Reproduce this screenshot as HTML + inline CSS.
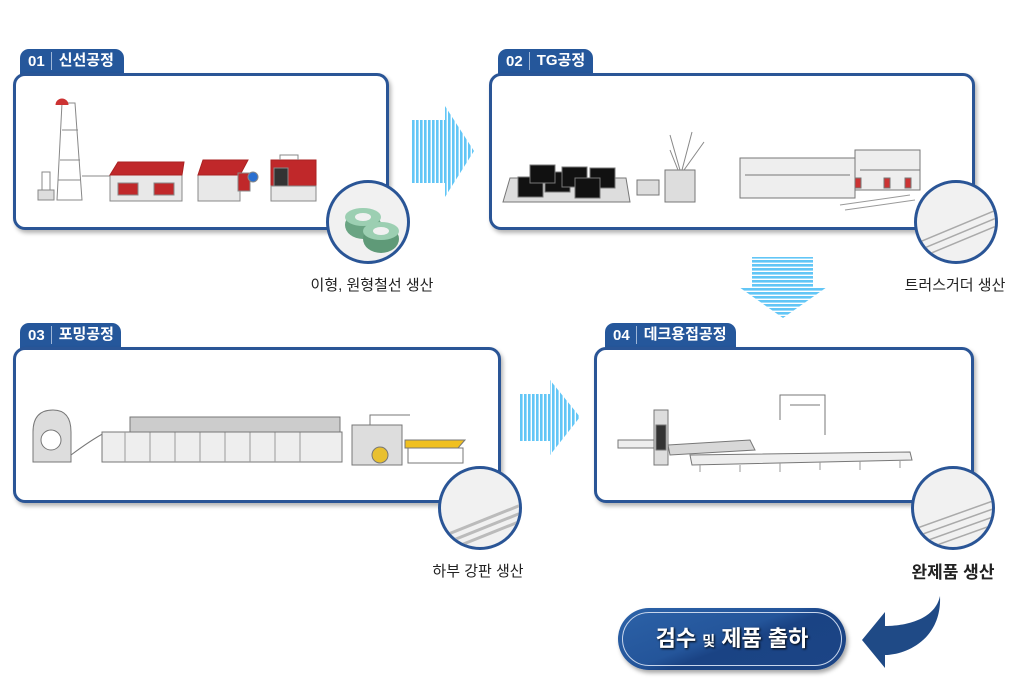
<!DOCTYPE html>
<html><head><meta charset="utf-8"><style>
body{margin:0;width:1034px;height:692px;background:#fff;position:relative;overflow:hidden;font-family:"Liberation Sans","Noto Sans CJK KR",sans-serif}
.panel{position:absolute;border:3px solid #2a5596;border-radius:12px;background:#fff;box-shadow:2px 3px 4px rgba(0,0,0,.3);box-sizing:border-box}
.tab{position:absolute;height:26px;background:#25579b;border-radius:9px 9px 0 0;color:#fff;font-size:15px;font-weight:bold;line-height:26px;padding-left:8px;box-sizing:border-box}
.tab span{display:inline-block;border-left:1px solid #9fb7d8;height:18px;line-height:18px;margin-left:6px;padding-left:7px;vertical-align:middle;position:relative;top:-1px}
.circ{position:absolute;width:84px;height:84px;border-radius:50%;border:3px solid #2a5596;background:#f1f1f1;box-sizing:border-box;overflow:hidden}
.lbl{position:absolute;font-size:15px;color:#222;white-space:nowrap;transform:translateX(-50%)}
svg{position:absolute;left:0;top:0}
</style></head><body>
<div class="tab" style="left:20px;top:49px;width:104px">01<span>신선공정</span></div>
<div class="panel" style="left:13px;top:73px;width:376px;height:157px"></div>
<div class="tab" style="left:498px;top:49px;width:95px">02<span>TG공정</span></div>
<div class="panel" style="left:489px;top:73px;width:486px;height:157px"></div>
<div class="tab" style="left:20px;top:323px;width:101px">03<span>포밍공정</span></div>
<div class="panel" style="left:13px;top:347px;width:488px;height:156px"></div>
<div class="tab" style="left:605px;top:323px;width:131px">04<span>데크용접공정</span></div>
<div class="panel" style="left:594px;top:347px;width:380px;height:156px"></div>

<svg width="1034" height="692" viewBox="0 0 1034 692">
<defs>
<pattern id="vs" width="4" height="4" patternUnits="userSpaceOnUse"><rect width="4" height="4" fill="#fff"/><rect width="2.6" height="4" fill="#62c6f6"/></pattern>
<pattern id="hs" width="4" height="4" patternUnits="userSpaceOnUse"><rect width="4" height="4" fill="#fff"/><rect width="4" height="2.6" fill="#62c6f6"/></pattern>
</defs>
<!-- arrows -->
<polygon points="412,120 445,120 445,106 474,151 445,197 445,183 412,183" fill="url(#vs)"/>
<polygon points="519,394 550,394 550,380 580,417 550,455 550,441 519,441" fill="url(#vs)"/>
<polygon points="752,257 813,257 813,287 827,287 783,318 739,287 752,287" fill="url(#hs)"/>
<!-- curved arrow -->
<path d="M940,596 C942,640 905,655 885,655 L885,668 L862,640 L885,612 L885,626 C905,626 935,620 940,596 Z" fill="#1f4a86"/>

<!-- panel1 machines -->
<g stroke="#888" stroke-width="1" fill="#ddd">
<polygon points="57,200 62,103 75,103 82,200" fill="#fff"/>
<line x1="62" y1="130" x2="78" y2="130"/><line x1="60" y1="160" x2="80" y2="160"/><line x1="58" y1="180" x2="80" y2="180"/>
<rect x="38" y="190" width="16" height="10"/><rect x="42" y="172" width="8" height="18" fill="#fff"/>
<path d="M56,105 a6,6 0 0 1 12,0" fill="#c33" stroke="#c33"/>
<line x1="82" y1="176" x2="110" y2="176"/>
<rect x="110" y="175" width="72" height="26" fill="#e8e8e8"/>
<polygon points="110,175 118,162 184,162 182,175" fill="#c0282a" stroke="#a22"/>
<rect x="118" y="183" width="20" height="12" fill="#c0282a"/><rect x="154" y="183" width="20" height="12" fill="#c0282a"/>
<rect x="198" y="175" width="42" height="26" fill="#e8e8e8"/>
<polygon points="198,175 203,160 248,160 240,175" fill="#c0282a" stroke="#a22"/>
<rect x="238" y="173" width="12" height="18" fill="#c0282a"/><circle cx="253" cy="177" r="5" fill="#2a6fd0"/>
<rect x="271" y="160" width="45" height="26" fill="#c0282a" stroke="#a22"/><rect x="271" y="186" width="45" height="15" fill="#e8e8e8"/>
<rect x="274" y="168" width="14" height="18" fill="#333"/>
<path d="M280,160 v-5 h18 v5" fill="none"/>
</g>
<!-- panel2 machines -->
<g stroke="#777" stroke-width="1" fill="#ddd">
<polygon points="503,202 630,202 626,178 510,178"/>
<g fill="#111"><rect x="518" y="177" width="25" height="20"/><rect x="545" y="172" width="25" height="20"/><rect x="562" y="167" width="25" height="20"/><rect x="530" y="165" width="25" height="18"/><rect x="590" y="168" width="25" height="20"/><rect x="575" y="178" width="25" height="20"/></g>
<rect x="637" y="180" width="22" height="15"/>
<rect x="665" y="170" width="30" height="32"/>
<path d="M680,170 l-10,-35 M682,170 l10,-38 M684,170 l20,-28 M678,170 l-8,-20" stroke="#888"/>
<rect x="740" y="158" width="115" height="40" fill="#eee"/>
<rect x="855" y="150" width="65" height="40" fill="#eee"/>
<line x1="745" y1="175" x2="850" y2="175"/><line x1="860" y1="170" x2="920" y2="170"/>
<rect x="855" y="178" width="6" height="10" fill="#c33"/><rect x="884" y="178" width="6" height="10" fill="#c33"/><rect x="905" y="178" width="6" height="10" fill="#c33"/>
<path d="M840,205 l70,-10 M845,210 l70,-10" stroke="#999"/>
</g>
<!-- panel3 machines -->
<g stroke="#777" stroke-width="1" fill="#eee">
<path d="M33,462 v-30 q0,-22 20,-22 q18,0 18,22 v30 z" fill="#ddd"/>
<circle cx="51" cy="440" r="10" fill="#fff"/>
<path d="M71,455 q20,-15 35,-23" fill="none"/>
<rect x="102" y="432" width="240" height="30"/>
<g stroke="#999"><line x1="125" y1="432" x2="125" y2="462"/><line x1="150" y1="432" x2="150" y2="462"/><line x1="175" y1="432" x2="175" y2="462"/><line x1="200" y1="432" x2="200" y2="462"/><line x1="225" y1="432" x2="225" y2="462"/><line x1="250" y1="432" x2="250" y2="462"/><line x1="275" y1="432" x2="275" y2="462"/><line x1="300" y1="432" x2="300" y2="462"/></g>
<rect x="130" y="417" width="210" height="15" fill="#ccc"/>
<rect x="352" y="425" width="50" height="40" fill="#ddd"/>
<path d="M370,425 v-10 h40" fill="none"/>
<circle cx="380" cy="455" r="8" fill="#e8c030"/>
<polygon points="405,440 465,440 458,448 405,448" fill="#f0c020"/>
<rect x="408" y="448" width="55" height="15" fill="none"/>
</g>
<!-- panel4 machines -->
<g stroke="#777" stroke-width="1" fill="#eee">
<rect x="618" y="440" width="40" height="8"/>
<rect x="654" y="410" width="14" height="55" fill="#ddd"/>
<rect x="656" y="425" width="10" height="25" fill="#333"/>
<polygon points="668,445 750,440 755,450 670,455" fill="#d8d8d8"/>
<polygon points="690,455 910,452 912,460 692,465"/>
<path d="M780,420 v-25 h45 v40 M790,405 h30" fill="none"/>
<g stroke="#999"><line x1="700" y1="465" x2="700" y2="472"/><line x1="740" y1="465" x2="740" y2="472"/><line x1="780" y1="463" x2="780" y2="472"/><line x1="820" y1="462" x2="820" y2="470"/><line x1="860" y1="461" x2="860" y2="470"/><line x1="900" y1="460" x2="900" y2="468"/></g>
</g>
</svg>

<!-- circles -->
<div class="circ" style="left:326px;top:180px"><svg width="84" height="84"><ellipse cx="34" cy="42" rx="18" ry="14" fill="#6aa483"/><ellipse cx="34" cy="34" rx="18" ry="9" fill="#9ccfb2"/><ellipse cx="34" cy="34" rx="8" ry="4" fill="#f1f1f1"/><ellipse cx="52" cy="56" rx="18" ry="14" fill="#5f9a78"/><ellipse cx="52" cy="48" rx="18" ry="9" fill="#9ccfb2"/><ellipse cx="52" cy="48" rx="8" ry="4" fill="#f1f1f1"/></svg></div>
<div class="circ" style="left:914px;top:180px"><svg width="84" height="84"><g stroke="#aaa" stroke-width="1.5"><line x1="0" y1="60" x2="84" y2="25"/><line x1="0" y1="68" x2="84" y2="33"/><line x1="0" y1="76" x2="84" y2="41"/></g></svg></div>
<div class="circ" style="left:438px;top:466px"><svg width="84" height="84"><g stroke="#bbb" stroke-width="3"><line x1="-5" y1="70" x2="90" y2="32"/><line x1="-5" y1="78" x2="90" y2="40"/><line x1="-5" y1="86" x2="90" y2="48"/></g></svg></div>
<div class="circ" style="left:911px;top:466px"><svg width="84" height="84"><g stroke="#aaa" stroke-width="1.5"><line x1="-5" y1="62" x2="90" y2="28"/><line x1="-5" y1="70" x2="90" y2="36"/><line x1="-5" y1="78" x2="90" y2="44"/><line x1="-5" y1="86" x2="90" y2="52"/></g></svg></div>

<div class="lbl" style="left:372px;top:274px">이형, 원형철선 생산</div>
<div class="lbl" style="left:955px;top:274px">트러스거더 생산</div>
<div class="lbl" style="left:478px;top:560px">하부 강판 생산</div>
<div class="lbl" style="left:953px;top:558px;font-weight:bold;font-size:17px">완제품 생산</div>

<div style="position:absolute;left:618px;top:608px;width:228px;height:62px;border-radius:31px;background:linear-gradient(160deg,#2c62a8 0%,#24559a 45%,#1a4384 55%,#1c4586 100%);box-shadow:2px 3px 4px rgba(0,0,0,.35)">
<div style="position:absolute;left:4px;top:4px;right:4px;bottom:4px;border:1px solid #c8d6ec;border-radius:27px"></div>
<div style="position:absolute;left:0;right:0;top:0;line-height:62px;text-align:center;color:#fff;font-weight:bold;font-size:22px;text-shadow:1px 1px 2px #000">검수 <span style="font-size:14px">및</span> 제품 출하</div>
</div>
</body></html>
